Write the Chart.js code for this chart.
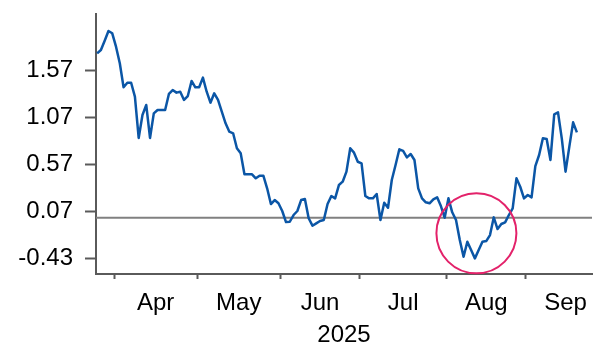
<!DOCTYPE html>
<html>
<head>
<meta charset="utf-8">
<script src="https://cdn.jsdelivr.net/npm/chart.js@4.4.1/dist/chart.umd.min.js"></script>
<style>
  html, body { margin: 0; padding: 0; background: #ffffff; }
  #wrap { width: 605px; height: 344px; }
</style>
</head>
<body>
<div id="wrap"><canvas id="chart" width="605" height="344"></canvas></div>
<script>
// Daily readings, one per trading day, 25 Mar – 18 Sep 2025
const seriesValues = [
  1.757, 1.793, 1.892, 1.996, 1.971, 1.828, 1.651, 1.394, 1.443, 1.443,
  1.294, 0.853, 1.098, 1.205, 0.853, 1.116, 1.152, 1.152, 1.152, 1.323,
  1.365, 1.337, 1.347, 1.259, 1.301, 1.462, 1.394, 1.394, 1.497, 1.347,
  1.230, 1.330, 1.259, 1.134, 1.010, 0.920, 0.903, 0.743, 0.689, 0.465,
  0.465, 0.465, 0.422, 0.450, 0.450, 0.315, 0.147, 0.190, 0.155, 0.073,
  -0.045, -0.042, 0.030, 0.073, 0.190, 0.201, -0.005, -0.084, -0.059, -0.034,
  -0.024, 0.147, 0.233, 0.208, 0.350, 0.386, 0.493, 0.743, 0.696, 0.599,
  0.582, 0.233, 0.208, 0.208, 0.254, -0.024, 0.161, 0.108, 0.404, 0.564,
  0.732, 0.714, 0.646, 0.682, 0.618, 0.315, 0.208, 0.166, 0.155, 0.198,
  0.219, 0.126, 0.001, 0.208, 0.059, -0.024, -0.237, -0.416, -0.255, -0.344,
  -0.433, -0.344, -0.255, -0.248, -0.184, 0.005, -0.120, -0.066, -0.048, 0.030,
  0.101, 0.422, 0.332, 0.208, 0.244, 0.219, 0.553, 0.671, 0.849, 0.842,
  0.618, 1.106, 1.127, 0.849, 0.493, 0.760, 1.020, 0.913
];

// Month axis: names and the trading-day index where each month begins
const monthNames = ['Apr', 'May', 'Jun', 'Jul', 'Aug', 'Sep'];
const monthStarts = [5, 27, 49, 70, 93, 114, 135];
const yearLabel = '2025';

// Value axis ticks: labelled and unlabelled marks
const yLabelTicks = [-0.43, 0.07, 0.57, 1.07, 1.57];
const yMinorTicks = [-0.18, 0.32, 0.82, 1.32, 1.82];

// Point ringed on the chart (trading-day index, value)
const highlightPoint = { x: 100.4, y: -0.166 };

const X_MIN = -0.3, X_MAX = 131;
const Y_MIN = -0.6, Y_MAX = 2.177;

const FONT = '"Liberation Sans", Arial, Helvetica, sans-serif';
const AXIS_GREY = '#5a5a5a';

const boundaryTicks = monthStarts.map(s => s - 0.5);
const midTicks = monthNames.map((_, k) => (monthStarts[k] + monthStarts[k + 1] - 1) / 2);
const near = (a, b) => Math.abs(a - b) < 1e-6;

const ringPlugin = {
  id: 'ring',
  afterDatasetsDraw(chart, args, opts) {
    const { ctx, scales } = chart;
    const cx = scales.x.getPixelForValue(highlightPoint.x);
    const cy = scales.y.getPixelForValue(highlightPoint.y);
    ctx.save();
    ctx.beginPath();
    ctx.arc(cx, cy, opts.radius, 0, Math.PI * 2);
    ctx.strokeStyle = opts.color;
    ctx.lineWidth = opts.width;
    ctx.stroke();
    ctx.restore();
  }
};

new Chart(document.getElementById('chart'), {
  type: 'line',
  data: {
    datasets: [
      {
        data: seriesValues.map((v, i) => ({ x: i, y: v })),
        borderColor: '#0b56a6',
        borderWidth: 2.5,
        pointRadius: 0,
        tension: 0,
        borderJoinStyle: 'round',
        order: 0
      },
      {
        data: [{ x: X_MIN, y: 0 }, { x: X_MAX, y: 0 }],
        borderColor: '#808080',
        borderWidth: 2,
        pointRadius: 0,
        order: 1
      }
    ]
  },
  options: {
    responsive: false,
    animation: false,
    devicePixelRatio: 1,
    layout: { padding: { top: 14, right: 13, left: 0, bottom: 0 } },
    plugins: {
      legend: { display: false },
      tooltip: { enabled: false },
      ring: { radius: 40, color: '#e3226a', width: 2 }
    },
    scales: {
      x: {
        type: 'linear',
        min: X_MIN,
        max: X_MAX,
        afterBuildTicks(scale) {
          scale.ticks = [...boundaryTicks, ...midTicks]
            .filter(v => v >= X_MIN && v <= X_MAX)
            .sort((a, b) => a - b)
            .map(v => ({ value: v }));
        },
        afterFit(scale) {
          scale.height = 70;
          scale.paddingLeft = 0;
          scale.paddingRight = 0;
        },
        ticks: {
          autoSkip: false,
          maxRotation: 0,
          padding: 10,
          color: '#000000',
          font: { family: FONT, size: 24 },
          callback(value) {
            const k = midTicks.findIndex(m => near(m, value));
            return k >= 0 ? monthNames[k] : '';
          }
        },
        grid: {
          drawOnChartArea: false,
          drawTicks: true,
          tickLength: 5,
          tickWidth: 2,
          tickColor: ctx => (ctx.tick && boundaryTicks.some(b => near(b, ctx.tick.value))) ? AXIS_GREY : 'rgba(0,0,0,0)'
        },
        border: { display: true, color: AXIS_GREY, width: 2 },
        title: {
          display: true,
          text: yearLabel,
          color: '#000000',
          font: { family: FONT, size: 24 },
          padding: { top: 0, bottom: -6 }
        }
      },
      y: {
        type: 'linear',
        min: Y_MIN,
        max: Y_MAX,
        afterBuildTicks(scale) {
          scale.ticks = [...yLabelTicks, ...yMinorTicks]
            .sort((a, b) => a - b)
            .map(v => ({ value: v }));
        },
        afterFit(scale) {
          scale.width = 96;
          scale.paddingTop = 0;
          scale.paddingBottom = 0;
        },
        ticks: {
          padding: 12,
          color: '#000000',
          font: { family: FONT, size: 24 },
          callback(value) {
            return yLabelTicks.some(t => near(t, value)) ? value.toFixed(2) : '';
          }
        },
        grid: {
          drawOnChartArea: false,
          drawTicks: true,
          tickLength: 11,
          tickWidth: 2,
          tickColor: AXIS_GREY
        },
        border: { display: true, color: AXIS_GREY, width: 2 }
      }
    }
  },
  plugins: [ringPlugin]
});
</script>
</body>
</html>
